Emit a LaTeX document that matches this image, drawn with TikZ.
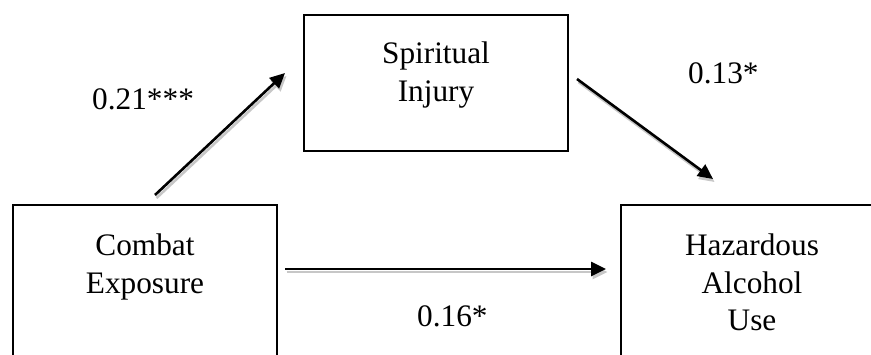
\documentclass[tikz,border=0pt]{standalone}
\usepackage{fontspec}
\setmainfont{Liberation Serif}
\usetikzlibrary{arrows.meta}
\begin{document}
\begin{tikzpicture}[x=1pt,y=-1pt,
  box/.style={draw=black, line width=2pt, inner sep=0pt, anchor=north west},
  boxtext/.style={align=center, inner sep=0pt, anchor=north, font=\fontsize{31.3}{37.5}\selectfont},
  coef/.style={inner sep=0pt, anchor=base west, font=\fontsize{31.3}{37.5}\selectfont},
  link/.style={line width=2.6pt, draw=black, -{Triangle[length=15pt,width=14pt]}},
  linkshadow/.style={line width=2.6pt, draw=black!22, -{Triangle[length=15pt,width=14pt]}}
]
\useasboundingbox (0,0) rectangle (871,354);
\clip (0,0) rectangle (871,354);

% boxes
\node[box, minimum width=264pt, minimum height=136pt] (si) at (303,14) {};
\node[box, minimum width=264pt, minimum height=216pt] (ce) at (12,204) {};
\node[box, minimum width=262pt, minimum height=216pt] (ha) at (620,204) {};

% box texts
\node[boxtext] (sit) at ([shift={(0,27.6)}]si.north) {Spiritual\\Injury};
\node[boxtext] (cet) at ([shift={(0,29.6)}]ce.north) {Combat\\Exposure};
\node[boxtext] (hat) at ([shift={(0,29.6)}]ha.north) {Hazardous\\Alcohol\\Use};

% connector end points
\coordinate (a1s) at (155,195);
\coordinate (a1e) at (285,73);
\coordinate (a2s) at (577,79);
\coordinate (a2e) at (713,179);
\coordinate (a3s) at (285,269);
\coordinate (a3e) at (606,269);

% shadows
\draw[linkshadow] ([shift={(1.5,3)}]a1s) -- ([shift={(1.5,3)}]a1e);
\draw[linkshadow] ([shift={(1.5,3)}]a2s) -- ([shift={(1.5,3)}]a2e);
\draw[linkshadow] ([shift={(1.5,3)}]a3s) -- ([shift={(1.5,3)}]a3e);

% arrows
\draw[link] (a1s) -- (a1e);
\draw[link] (a2s) -- (a2e);
\draw[link] (a3s) -- (a3e);

% coefficients
\node[coef] (c1) at (92,109) {0.21***};
\node[coef] (c2) at (688,83) {0.13*};
\node[coef] (c3) at (417,326) {0.16*};
\end{tikzpicture}
\end{document}
